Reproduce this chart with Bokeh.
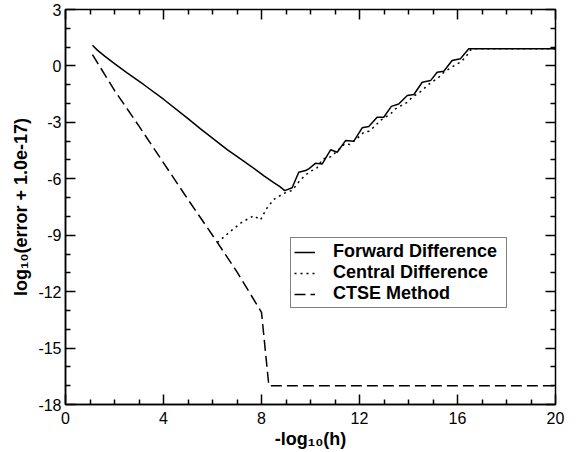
from bokeh.plotting import figure
from bokeh.models import (LinearAxis, FixedTicker, Range1d, Legend, LegendItem,
                          CustomJSTickFormatter)
from bokeh.embed import file_html
from bokeh.resources import INLINE

# Forward difference
fwd_x = [1.1, 1.3, 1.6, 2.0, 2.5, 3.2, 4.0, 5.0, 5.5, 6.6, 7.2, 7.8, 8.1, 8.5, 8.75, 8.95,
         9.25, 9.52, 9.8, 9.93, 10.2, 10.48, 10.82, 11.09, 11.43, 11.77, 12.11, 12.38,
         12.72, 12.99, 13.3, 13.6, 13.95, 14.22, 14.56, 14.9, 15.17, 15.44, 15.78, 16.12,
         16.46, 20.0]
fwd_y = [1.1, 0.84, 0.52, 0.12, -0.36, -1.0, -1.77, -2.8, -3.33, -4.45, -5.0, -5.55, -5.85,
         -6.2, -6.42, -6.63, -6.48, -5.65, -5.56, -5.47, -5.18, -5.21, -4.46, -4.59, -3.97,
         -4.0, -3.29, -3.22, -2.73, -2.73, -2.15, -2.02, -1.57, -1.52, -0.87, -0.78, -0.34,
         -0.28, 0.29, 0.38, 0.91, 0.91]

# Central difference (visible part; coincides with CTSE for larger h)
cen_x = [6.2, 6.8, 7.2, 7.69, 7.96, 8.2, 8.5, 8.9, 9.25, 9.56, 9.8, 10.0, 10.25, 10.5,
         10.85, 11.1, 11.4, 11.6, 11.95, 12.18, 12.4, 12.65, 12.85, 13.27, 13.47, 13.95,
         14.15, 14.56, 14.76, 15.24, 15.44, 15.85, 16.12, 16.33, 16.53, 16.7, 20.0]
cen_y = [-9.39, -8.72, -8.31, -7.96, -8.19, -7.6, -7.1, -6.78, -6.62, -6.1, -5.8, -5.6,
         -5.45, -4.95, -4.82, -4.5, -4.14, -4.18, -3.8, -3.52, -3.47, -3.17, -2.9, -2.55,
         -2.28, -1.93, -1.66, -1.31, -1.04, -0.6, -0.34, 0.0, 0.2, 0.46, 0.85, 0.91, 0.91]

# CTSE method
ctse_x = [1.1, 2.0, 3.0, 4.0, 5.0, 6.0, 7.0, 8.0, 8.3, 20.0]
ctse_y = [0.6, -1.3, -3.2, -5.15, -7.1, -9.0, -10.95, -13.1, -17.0, -17.0]

series_labels = ["Forward Difference", "Central Difference", "CTSE Method"]
x_title = "-log\u2081\u2080(h)"
y_title = "log\u2081\u2080(error + 1.0e-17)"

x_major = [0, 4, 8, 12, 16, 20]
x_minor = [v for v in range(0, 21) if v not in x_major]
y_major = [3, 0, -3, -6, -9, -12, -15, -18]
y_minor = [v for v in range(-18, 4) if v not in y_major]

FONT = "Liberation Sans"

p = figure(width=584, height=452, x_range=Range1d(0, 20), y_range=Range1d(-18, 3),
           output_backend="svg", toolbar_location=None,
           min_border_left=65, min_border_right=29, min_border_top=9, min_border_bottom=48)
p.xgrid.visible = False
p.ygrid.visible = False
p.outline_line_color = "black"
p.outline_line_width = 1.5
p.background_fill_color = "white"
p.border_fill_color = "white"

def ticks_style(ax, major_len, minor_len):
    ax.axis_line_color = "black"
    ax.axis_line_width = 1.5
    ax.major_tick_line_color = "black"
    ax.major_tick_line_width = 1.5
    ax.minor_tick_line_color = "black"
    ax.minor_tick_line_width = 1.5
    ax.major_tick_in = major_len
    ax.major_tick_out = 0
    ax.minor_tick_in = minor_len
    ax.minor_tick_out = 0

fmt = CustomJSTickFormatter(code="return String(tick);")

xa = p.xaxis[0]
xa.ticker = FixedTicker(ticks=x_major, minor_ticks=x_minor)
ticks_style(xa, 10, 5)
xa.formatter = fmt
xa.major_label_text_font = FONT
xa.major_label_text_font_size = "16px"
xa.major_label_text_color = "black"
xa.major_label_standoff = 7
xa.axis_label = x_title
xa.axis_label_text_font = FONT
xa.axis_label_text_font_style = "bold"
xa.axis_label_text_font_size = "18px"
xa.axis_label_text_color = "black"
xa.axis_label_standoff = 2

ya = p.yaxis[0]
ya.ticker = FixedTicker(ticks=y_major, minor_ticks=y_minor)
ticks_style(ya, 10, 5)
ya.formatter = fmt
ya.major_label_text_font = FONT
ya.major_label_text_font_size = "16px"
ya.major_label_text_color = "black"
ya.major_label_standoff = 4
ya.axis_label = y_title
ya.axis_label_text_font = FONT
ya.axis_label_text_font_style = "bold"
ya.axis_label_text_font_size = "18px"
ya.axis_label_text_color = "black"
ya.axis_label_standoff = 4

# unlabeled tick marks on top and right edges (minor-type ticks only -> no label texts)
for side, majors, minors in (("above", x_major, x_minor), ("right", y_major, y_minor)):
    for pos, ln in ((majors, 10), (minors, 5)):
        ax = LinearAxis(ticker=FixedTicker(ticks=[], minor_ticks=pos))
        ticks_style(ax, 0, ln)
        ax.axis_line_color = None
        ax.major_label_standoff = 0
        p.add_layout(ax, side)

r1 = p.line(fwd_x, fwd_y, line_color="black", line_width=1.5)
r2 = p.line(cen_x, cen_y, line_color="black", line_width=1.5, line_dash="2 4")
r3 = p.line(ctse_x, ctse_y, line_color="black", line_width=1.5, line_dash="11 5")

legend = Legend(items=[LegendItem(label=series_labels[0], renderers=[r1]),
                       LegendItem(label=series_labels[1], renderers=[r2]),
                       LegendItem(label=series_labels[2], renderers=[r3])],
                location=(225, 96))
legend.label_text_font = FONT
legend.label_text_font_style = "bold"
legend.label_text_font_size = "18px"
legend.label_text_color = "black"
legend.border_line_color = "black"
legend.border_line_width = 1.5
legend.background_fill_color = "white"
legend.background_fill_alpha = 1.0
legend.padding = 3
legend.spacing = 0
legend.margin = 0
legend.glyph_width = 21
legend.glyph_height = 20
legend.label_height = 20
legend.label_standoff = 18
legend.label_width = 170
p.add_layout(legend)

open("out.html", "w").write(file_html(p, INLINE))
